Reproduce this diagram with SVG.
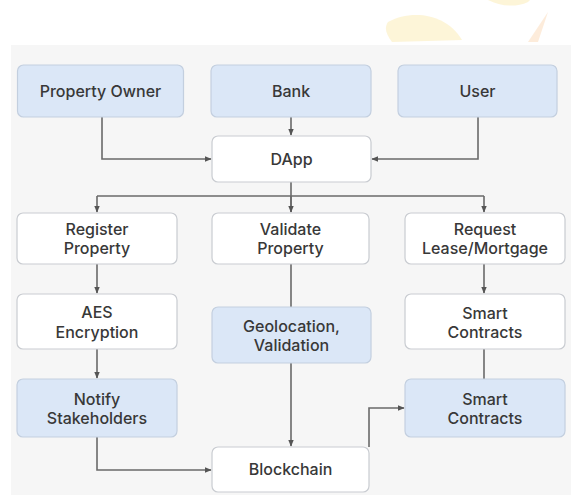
<svg xmlns="http://www.w3.org/2000/svg" width="571" height="495" viewBox="0 0 571 495">
  <defs>
    <marker id="arrow" viewBox="0 0 10 10" refX="9" refY="5" markerWidth="7" markerHeight="7" orient="auto-start-reverse" markerUnits="userSpaceOnUse">
      <path d="M0,1 L10,5 L0,9 z" fill="#555"/>
    </marker>
    <style>
      .box { stroke: #c9ccd1; stroke-width: 1.2; }
      .plain { fill: #ffffff; }
      .blue { fill: #dbe7f7; stroke: #c3cfdf; }
      .label { font-family: Inter, "Noto Sans", "DejaVu Sans", sans-serif; font-size: 16px; font-weight: 500; fill: #383838; text-anchor: middle; dominant-baseline: central; }
      .wire { fill: none; stroke: #6a6a6a; stroke-width: 1.6; }
    </style>
  </defs>

  <!-- page and faint corner ornament -->
  <rect x="0" y="0" width="571" height="495" fill="#ffffff"/>
  <g opacity="0.4">
    <path d="M388,22 C410,10 445,12 462,40 L392,42 C386,34 384,28 388,22 z" fill="#fbe7a0"/>
    <path d="M488,0 C500,6 515,8 528,2 L530,0 z" fill="#fbe7a0"/>
    <path d="M548,12 L538,42 L528,42 z" fill="#fbd2a8"/>
  </g>
  <rect x="11" y="45" width="560" height="450" fill="#f6f6f6"/>

  <!-- connectors -->
  <g id="connectors">
    <path class="wire" d="M102,117 V159 H211" marker-end="url(#arrow)"/>
    <path class="wire" d="M291,117 V135" marker-end="url(#arrow)"/>
    <path class="wire" d="M478,117 V159 H372" marker-end="url(#arrow)"/>
    <path class="wire" d="M291,182 V212"/>
    <path class="wire" d="M97,196 H484"/>
    <path class="wire" d="M97,196 V212" marker-end="url(#arrow)"/>
    <path class="wire" d="M291,196 V212" marker-end="url(#arrow)"/>
    <path class="wire" d="M484,196 V212" marker-end="url(#arrow)"/>
    <path class="wire" d="M97,264 V293" marker-end="url(#arrow)"/>
    <path class="wire" d="M484,264 V293" marker-end="url(#arrow)"/>
    <path class="wire" d="M291,264 V307"/>
    <path class="wire" d="M97,349 V378" marker-end="url(#arrow)"/>
    <path class="wire" d="M484,349 V379"/>
    <path class="wire" d="M291,363 V446" marker-end="url(#arrow)"/>
    <path class="wire" d="M97,437 V470 H211" marker-end="url(#arrow)"/>
    <path class="wire" d="M369,447 V408 H404" marker-end="url(#arrow)"/>
  </g>

  <!-- actors -->
  <g id="property-owner">
    <rect class="box blue" x="17.5" y="65" width="166" height="52" rx="6"/>
    <text class="label" x="100.5" y="91">Property Owner</text>
  </g>
  <g id="bank">
    <rect class="box blue" x="211" y="65" width="160" height="52" rx="6"/>
    <text class="label" x="291" y="91">Bank</text>
  </g>
  <g id="user">
    <rect class="box blue" x="398" y="65" width="159" height="52" rx="6"/>
    <text class="label" x="477.5" y="91">User</text>
  </g>

  <g id="dapp">
    <rect class="box plain" x="212" y="136" width="159" height="46" rx="6"/>
    <text class="label" x="291.5" y="159">DApp</text>
  </g>

  <!-- second row -->
  <g id="register-property">
    <rect class="box plain" x="17" y="213" width="160" height="51" rx="6"/>
    <text class="label" x="97" y="229">Register</text>
    <text class="label" x="97" y="248">Property</text>
  </g>
  <g id="validate-property">
    <rect class="box plain" x="212" y="213" width="157" height="51" rx="6"/>
    <text class="label" x="290.5" y="229">Validate</text>
    <text class="label" x="290.5" y="248">Property</text>
  </g>
  <g id="request-lease">
    <rect class="box plain" x="405" y="213" width="160" height="51" rx="6"/>
    <text class="label" x="485" y="229">Request</text>
    <text class="label" x="485" y="248">Lease/Mortgage</text>
  </g>

  <!-- third row -->
  <g id="aes-encryption">
    <rect class="box plain" x="17" y="294" width="160" height="55" rx="6"/>
    <text class="label" x="97" y="312">AES</text>
    <text class="label" x="97" y="332">Encryption</text>
  </g>
  <g id="geolocation-validation">
    <rect class="box blue" x="212" y="307" width="159" height="56" rx="6"/>
    <text class="label" x="291.5" y="326">Geolocation,</text>
    <text class="label" x="291.5" y="345">Validation</text>
  </g>
  <g id="smart-contracts-1">
    <rect class="box plain" x="405" y="294" width="160" height="55" rx="6"/>
    <text class="label" x="485" y="313">Smart</text>
    <text class="label" x="485" y="332">Contracts</text>
  </g>

  <!-- fourth row -->
  <g id="notify-stakeholders">
    <rect class="box blue" x="17" y="379" width="160" height="58" rx="6"/>
    <text class="label" x="97" y="399">Notify</text>
    <text class="label" x="97" y="418">Stakeholders</text>
  </g>
  <g id="smart-contracts-2">
    <rect class="box blue" x="405" y="379" width="160" height="58" rx="6"/>
    <text class="label" x="485" y="399">Smart</text>
    <text class="label" x="485" y="418">Contracts</text>
  </g>

  <g id="blockchain">
    <rect class="box plain" x="212" y="447" width="157" height="45" rx="6"/>
    <text class="label" x="290.5" y="469">Blockchain</text>
  </g>
</svg>
